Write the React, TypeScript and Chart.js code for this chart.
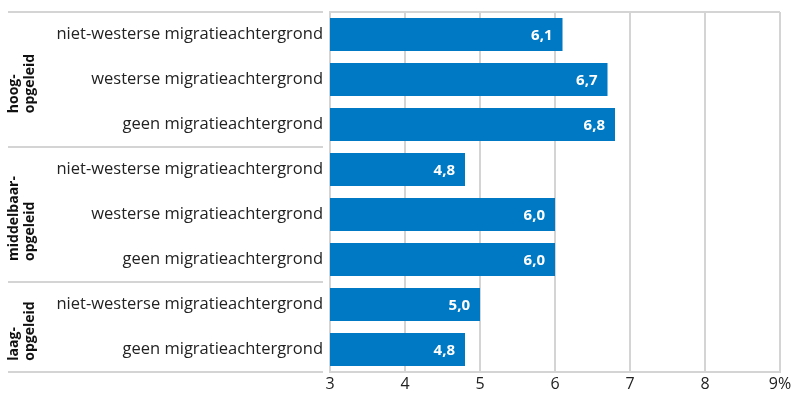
import React, { useEffect, useRef } from "react";
import { Chart, registerables } from "chart.js";

Chart.register(...registerables);

const categories = [
  "niet-westerse migratieachtergrond",
  "westerse migratieachtergrond",
  "geen migratieachtergrond",
  "niet-westerse migratieachtergrond",
  "westerse migratieachtergrond",
  "geen migratieachtergrond",
  "niet-westerse migratieachtergrond",
  "geen migratieachtergrond",
];
const values = [6.1, 6.7, 6.8, 4.8, 6.0, 6.0, 5.0, 4.8];
const groupLabels = [
  ["hoog-", "opgeleid"],
  ["middelbaar-", "opgeleid"],
  ["laag-", "opgeleid"],
];
const groupSizes = [3, 3, 2];
const xMin = 3;
const xMax = 9;

const FONT = "'Open Sans', Lato, sans-serif";
const GRID = "#d4d4d4";
const BLUE = "#0079C4";

const decorPlugin = {
  id: "decor",
  afterDatasetsDraw(chart: any) {
    const { ctx, chartArea, scales } = chart;
    const y = scales.y;
    const step = y.getPixelForValue(1) - y.getPixelForValue(0);
    ctx.save();
    ctx.strokeStyle = GRID;
    ctx.lineWidth = 2;
    ctx.beginPath();
    ctx.moveTo(chartArea.left, chartArea.top);
    ctx.lineTo(chartArea.right, chartArea.top);
    ctx.stroke();
    const bounds: number[] = [chartArea.top];
    let idx = 0;
    groupSizes.forEach((n) => {
      idx += n;
      bounds.push(y.getPixelForValue(idx - 1) + step / 2);
    });
    bounds.forEach((b) => {
      ctx.beginPath();
      ctx.moveTo(8, b);
      ctx.lineTo(chartArea.left - 7, b);
      ctx.stroke();
    });
    ctx.fillStyle = "#111";
    ctx.font = `bold 14px ${FONT}`;
    ctx.textBaseline = "middle";
    ctx.textAlign = "left";
    groupLabels.forEach((lines, gi) => {
      const center = (bounds[gi] + bounds[gi + 1]) / 2;
      const maxW = Math.max(...lines.map((l) => ctx.measureText(l).width));
      const start = center + maxW / 2 + 4;
      lines.forEach((l, li) => {
        ctx.save();
        ctx.translate(14 + li * 16, start);
        ctx.rotate(-Math.PI / 2);
        ctx.fillText(l, 0, 0);
        ctx.restore();
      });
    });
    const meta = chart.getDatasetMeta(0);
    ctx.fillStyle = "#ffffff";
    ctx.font = `bold 15px ${FONT}`;
    ctx.textAlign = "right";
    meta.data.forEach((el: any, i: number) => {
      ctx.fillText(values[i].toFixed(1).replace(".", ","), el.x - 10, el.y + 1);
    });
    ctx.restore();
  },
};

export default function App() {
  const ref = useRef<HTMLCanvasElement | null>(null);
  useEffect(() => {
    document.body.style.margin = "0";
    const chart = new Chart(ref.current as HTMLCanvasElement, {
      type: "bar",
      data: {
        labels: categories,
        datasets: [
          {
            data: values,
            backgroundColor: BLUE,
            borderWidth: 0,
            barPercentage: 0.73,
            categoryPercentage: 1,
          },
        ],
      },
      options: {
        indexAxis: "y",
        animation: false,
        responsive: false,
        maintainAspectRatio: false,
        layout: { padding: { top: 12, right: 20, left: 0, bottom: 0 } },
        plugins: { legend: { display: false }, tooltip: { enabled: false } },
        scales: {
          x: {
            min: xMin,
            max: xMax,
            ticks: {
              stepSize: 1,
              padding: 3,
              color: "#222",
              font: { family: FONT, size: 16 },
              callback: (v: any) => (v === xMax ? `${v}%` : `${v}`),
            },
            grid: { color: GRID, lineWidth: 2, drawTicks: false },
            border: { color: GRID, width: 2 },
            afterFit: (s: any) => {
              s.height = 24;
            },
          },
          y: {
            ticks: {
              padding: 7,
              color: "#222",
              font: { family: FONT, size: 16.5 },
            },
            grid: { display: false, drawTicks: false },
            border: { color: GRID, width: 2 },
            afterFit: (s: any) => {
              s.width = 330;
              s.paddingTop = 0;
              s.paddingBottom = 0;
            },
          },
        },
      },
      plugins: [decorPlugin],
    } as any);
    return () => chart.destroy();
  }, []);
  return <canvas ref={ref} width={800} height={396} style={{ display: "block" }} />;
}
